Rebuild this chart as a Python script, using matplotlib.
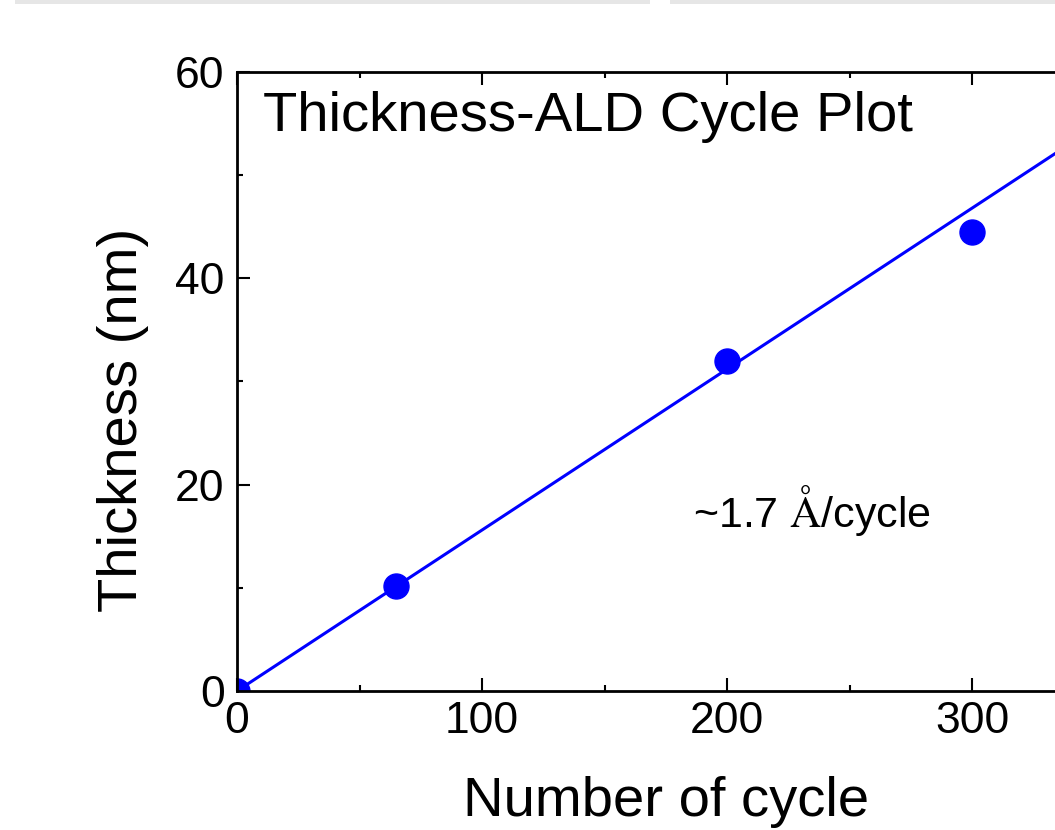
import matplotlib.pyplot as plt
from matplotlib.patches import Rectangle
from matplotlib.ticker import MultipleLocator

plt.rcParams['font.family'] = ['Liberation Sans', 'DejaVu Sans']
plt.rcParams['mathtext.fontset'] = 'stix'

# data
cycles = [0, 65, 200, 300]
thickness = [0, 10.2, 32.0, 44.5]
fit_x = [0, 350]
fit_y = [0, 54.6]

fig = plt.figure(figsize=(10.55, 8.3), dpi=100)
# axes runs off the right edge, like the cropped slide
ax = fig.add_axes([237 / 1055, 139 / 830, 857.5 / 1055, 619 / 830])

ax.plot(fit_x, fit_y, color='#0000ff', lw=2.2)
ax.plot(cycles, thickness, 'o', color='#0000ff', ms=18)

ax.set_xlim(0, 350)
ax.set_ylim(0, 60)
ax.xaxis.set_major_locator(MultipleLocator(100))
ax.xaxis.set_minor_locator(MultipleLocator(50))
ax.yaxis.set_major_locator(MultipleLocator(20))
ax.yaxis.set_minor_locator(MultipleLocator(10))
ax.tick_params(which='both', direction='in', top=True, right=True,
               width=1.5, labelsize=32, colors='black')
ax.tick_params(which='major', length=9.5)
ax.tick_params(which='minor', length=4.5)
ax.tick_params(axis='x', pad=7)
ax.tick_params(axis='y', pad=9)
for s in ax.spines.values():
    s.set_linewidth(2)

ax.set_xlabel('Number of cycle', fontsize=40.5, labelpad=25)
ax.set_ylabel('Thickness (nm)', fontsize=40.5)
ax.yaxis.set_label_coords(-0.103, 0.438)

ax.text(0.03, 0.97, 'Thickness-ALD Cycle Plot', transform=ax.transAxes,
        fontsize=40.5, va='top', ha='left')
ax.text(186, 15.9, r'~1.7 $\mathrm{\AA}$/cycle', fontsize=31,
        va='baseline', ha='left')

# faint grey strips along the top edge of the slide
fig.patches.append(Rectangle((15 / 1055, 826 / 830), 635 / 1055, 4 / 830,
                             transform=fig.transFigure, color='#e6e6e6', lw=0))
fig.patches.append(Rectangle((670 / 1055, 826 / 830), 385 / 1055, 4 / 830,
                             transform=fig.transFigure, color='#e6e6e6', lw=0))

fig.savefig('out.png', dpi=100)
